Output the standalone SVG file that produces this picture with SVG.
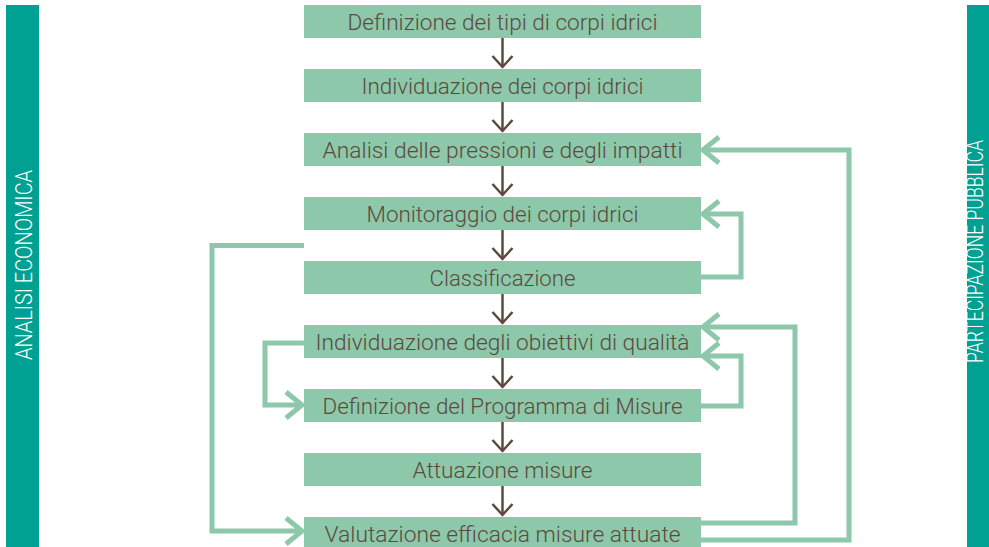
<svg xmlns="http://www.w3.org/2000/svg" width="989" height="547" viewBox="0 0 989 547">
<style>
.bar{fill:#00a092}
.side{fill:#ffffff;font-family:Roboto,"Liberation Sans",sans-serif;font-weight:300;font-size:24px}
.box{fill:#8cc8a9}
.lbl{fill:#5c4a3f;font-family:Roboto,"Liberation Sans",sans-serif;font-weight:300;font-size:22px;text-anchor:middle}
.down{fill:none;stroke:#5c4a3f;stroke-width:2.5}
.loop{fill:none;stroke:#8cc8a9;stroke-width:5}
</style>
<defs>
<marker id="ab" markerUnits="userSpaceOnUse" orient="auto" refX="0" refY="0" viewBox="-14 -13 16 26" markerWidth="16" markerHeight="26" overflow="visible">
<path d="M-11,-10 L0,0 L-11,10" fill="none" stroke="#5c4a3f" stroke-width="2.5"/>
</marker>
<marker id="ag" markerUnits="userSpaceOnUse" orient="auto" refX="0" refY="0" viewBox="-20 -16 24 32" markerWidth="24" markerHeight="32" overflow="visible">
<path d="M-16,-13 L0,0 L-16,13" fill="none" stroke="#8cc8a9" stroke-width="5"/>
</marker>
</defs>
<g id="bar-left">
<rect class="bar" x="6" y="5" width="33" height="542"/>
<text class="side" transform="translate(32,265) rotate(-90)" text-anchor="middle" textLength="190" lengthAdjust="spacingAndGlyphs">ANALISI ECONOMICA</text>
</g>
<g id="bar-right">
<rect class="bar" x="967" y="5" width="22" height="542"/>
<text class="side" transform="translate(983,251.5) rotate(-90)" text-anchor="middle" textLength="223" lengthAdjust="spacingAndGlyphs">PARTECIPAZIONE PUBBLICA</text>
</g>
<g id="connectors">
<path class="down" d="M502.5,38 V67" marker-end="url(#ab)"/>
<path class="down" d="M502.5,102 V131" marker-end="url(#ab)"/>
<path class="down" d="M502.5,166 V195" marker-end="url(#ab)"/>
<path class="down" d="M502.5,230 V259" marker-end="url(#ab)"/>
<path class="down" d="M502.5,294 V323" marker-end="url(#ab)"/>
<path class="down" d="M502.5,358 V387" marker-end="url(#ab)"/>
<path class="down" d="M502.5,422 V451" marker-end="url(#ab)"/>
<path class="down" d="M502.5,486 V515" marker-end="url(#ab)"/>
<path class="loop" d="M701,540 H849 V150 H703" marker-end="url(#ag)"/>
<path class="loop" d="M701,523 H795 V327 H703" marker-end="url(#ag)"/>
<path class="loop" d="M701,277 H741 V214 H703" marker-end="url(#ag)"/>
<path class="loop" d="M701,406 H741 V356 H703" marker-end="url(#ag)"/>
<path class="loop" d="M304,343 H265 V405 H302" marker-end="url(#ag)"/>
<path class="loop" d="M304,245.5 H212 V531 H302" marker-end="url(#ag)"/>
</g>
<g id="n1"><rect class="box" x="304" y="5" width="397" height="33"/><text class="lbl" x="502.5" y="30" textLength="310" lengthAdjust="spacingAndGlyphs">Definizione dei tipi di corpi idrici</text></g>
<g id="n2"><rect class="box" x="304" y="69" width="397" height="33"/><text class="lbl" x="502.5" y="94" textLength="282" lengthAdjust="spacingAndGlyphs">Individuazione dei corpi idrici</text></g>
<g id="n3"><rect class="box" x="304" y="133" width="397" height="33"/><text class="lbl" x="502.5" y="158" textLength="360" lengthAdjust="spacingAndGlyphs">Analisi delle pressioni e degli impatti</text></g>
<g id="n4"><rect class="box" x="304" y="197" width="397" height="33"/><text class="lbl" x="502.5" y="222" textLength="272" lengthAdjust="spacingAndGlyphs">Monitoraggio dei corpi idrici</text></g>
<g id="n5"><rect class="box" x="304" y="261" width="397" height="33"/><text class="lbl" x="502.5" y="286" textLength="146" lengthAdjust="spacingAndGlyphs">Classificazione</text></g>
<g id="n6"><rect class="box" x="304" y="325" width="397" height="33"/><text class="lbl" x="502.5" y="350" textLength="374" lengthAdjust="spacingAndGlyphs">Individuazione degli obiettivi di qualità</text></g>
<g id="n7"><rect class="box" x="304" y="389" width="397" height="33"/><text class="lbl" x="502.5" y="414" textLength="360" lengthAdjust="spacingAndGlyphs">Definizione del Programma di Misure</text></g>
<g id="n8"><rect class="box" x="304" y="453" width="397" height="33"/><text class="lbl" x="502.5" y="478" textLength="180" lengthAdjust="spacingAndGlyphs">Attuazione misure</text></g>
<g id="n9"><rect class="box" x="304" y="517" width="397" height="33"/><text class="lbl" x="502.5" y="542" textLength="356" lengthAdjust="spacingAndGlyphs">Valutazione efficacia misure attuate</text></g>
</svg>
